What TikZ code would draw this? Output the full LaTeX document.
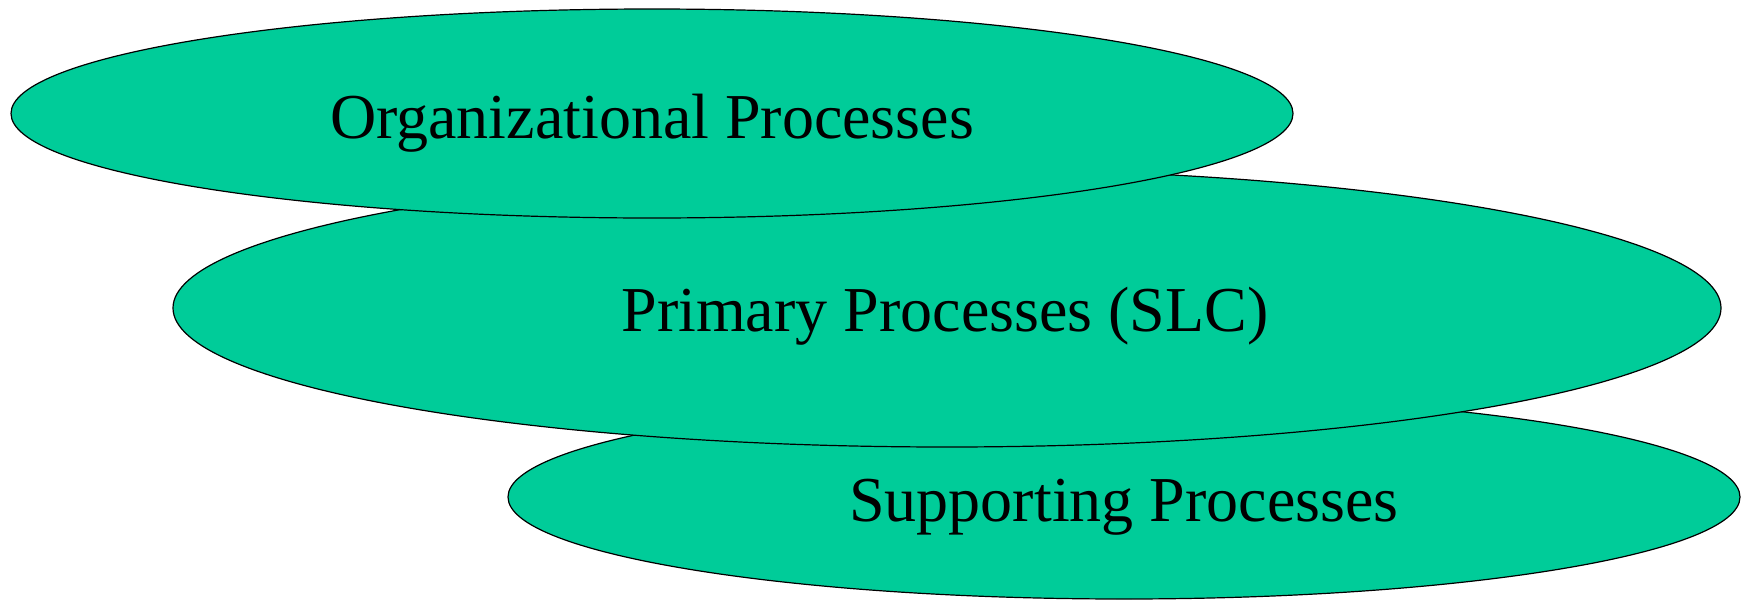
\documentclass[tikz,border=0pt]{standalone}
\usepackage{fontspec}
\setmainfont{Liberation Serif}
\usetikzlibrary{shapes.geometric}
\definecolor{procfill}{HTML}{00CC99}
\begin{document}
\begin{tikzpicture}[x=1pt,y=-1pt,
  proc/.style={ellipse, draw=black, line width=1.2pt, fill=procfill, inner sep=0pt},
  lab/.style={anchor=base, inner sep=0pt, font=\fontsize{64}{70}\selectfont}]
\useasboundingbox (0,0) rectangle (1749,600);
\node[proc, minimum width=1232, minimum height=204] (sup) at (1124,497) {};
\node[proc, minimum width=1548, minimum height=278] (pri) at (947,308) {};
\node[proc, minimum width=1282, minimum height=209] (org) at (652,113.5) {};
\node[lab] (orgt) at (652,138) {Organizational Processes};
\node[lab] (prit) at (945,331) {Primary Processes (SLC)};
\node[lab] (supt) at (1124,521) {Supporting Processes};
\end{tikzpicture}
\end{document}
